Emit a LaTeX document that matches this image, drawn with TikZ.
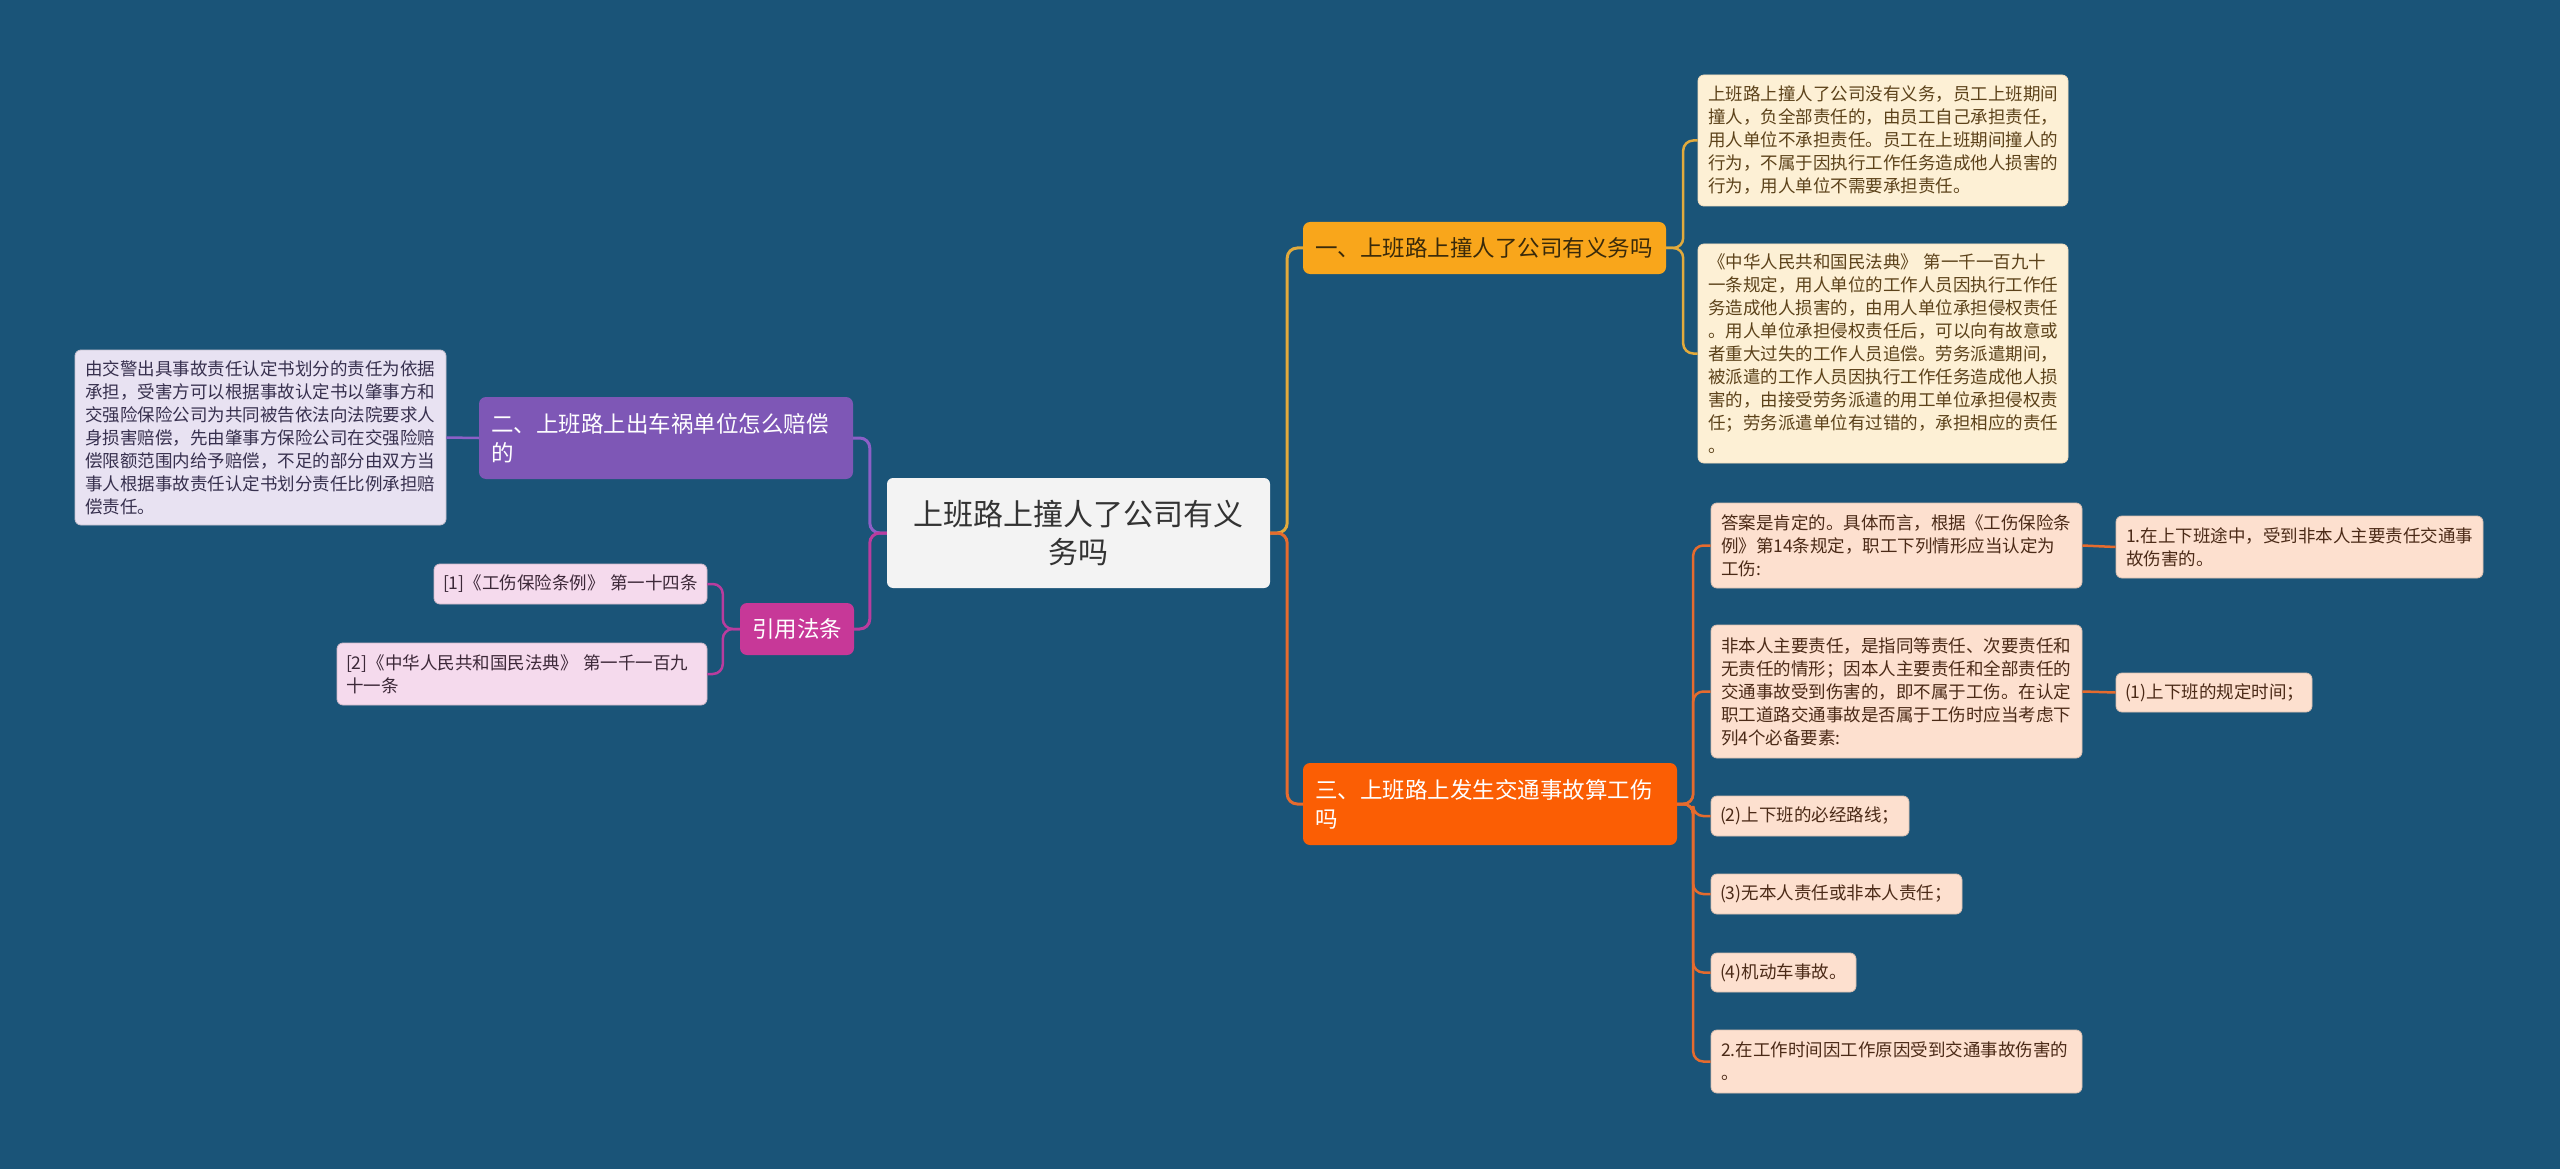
\documentclass[tikz,border=0pt]{standalone}
\usepackage{fontspec}
\setmainfont{Noto Sans CJK SC}
\definecolor{bgc}{HTML}{1A5478}
\definecolor{cfill}{HTML}{F3F3F3}
\definecolor{yfill}{HTML}{F9A61B}
\definecolor{pfill}{HTML}{7E57B6}
\definecolor{mfill}{HTML}{C73898}
\definecolor{ofill}{HTML}{FB5E04}
\definecolor{afill}{HTML}{FDF0D5}
\definecolor{bfill}{HTML}{E8E2F2}
\definecolor{ccfill}{HTML}{F5DAED}
\definecolor{dfill}{HTML}{FDE0CF}
\definecolor{ylin}{HTML}{E2AA3C}
\definecolor{plin}{HTML}{8C5FC7}
\definecolor{mlin}{HTML}{B93C9E}
\definecolor{olin}{HTML}{E56B2E}
\definecolor{atext}{HTML}{5C421A}
\definecolor{btext}{HTML}{37304E}
\definecolor{ctext}{HTML}{3C2838}
\definecolor{dtext}{HTML}{4B2A17}
\definecolor{ytext}{HTML}{3A2A0A}
\newcommand\leaffont{\fontsize{17.5pt}{23pt}\selectfont}
\newcommand\brfont{\fontsize{22.5pt}{29pt}\selectfont}
\newcommand\cenfont{\fontsize{30pt}{38pt}\selectfont}
\tikzset{
 basebox/.style={rounded corners=6pt, inner sep=0pt, align=left},
 cenbox/.style={basebox, fill=cfill, text=black!80, font=\cenfont, align=center},
 brbox/.style={basebox, rounded corners=7pt, font=\brfont},
 leafa/.style={basebox, fill=afill, draw=afill!85!brown, line width=0.8pt, text=atext, font=\leaffont},
 leafb/.style={basebox, fill=bfill, draw=bfill!85!black, line width=0.8pt, text=btext, font=\leaffont},
 leafc/.style={basebox, fill=ccfill, draw=ccfill!85!black, line width=0.8pt, text=ctext, font=\leaffont},
 leafd/.style={basebox, fill=dfill, draw=dfill!85!black, line width=0.8pt, text=dtext, font=\leaffont},
 conn/.style={line width=3pt, rounded corners=10pt},
}
\begin{document}
\begin{tikzpicture}[x=1pt,y=-1pt]
\fill[bgc] (0,0) rectangle (2560,1169);
\useasboundingbox (0,0) rectangle (2560,1169);

% center
\node[cenbox, minimum width=383pt, minimum height=110pt, text width=363pt] (cen) at (1078.5,533) {上班路上撞人了公司有义\\务吗};

% branch 1
\node[brbox, fill=yfill, text=ytext, minimum width=363pt, minimum height=52pt, text width=339pt] (b1) at (1484.5,248) {一、上班路上撞人了公司有义务吗};
\node[leafa, minimum width=370pt, minimum height=131pt, text width=350pt] (a1) at (1883,140.5) {上班路上撞人了公司没有义务，员工上班期间\\撞人，负全部责任的，由员工自己承担责任，\\用人单位不承担责任。员工在上班期间撞人的\\行为，不属于因执行工作任务造成他人损害的\\行为，用人单位不需要承担责任。};
\node[leafa, minimum width=370pt, minimum height=219pt, text width=350pt] (a2) at (1883,353.5) {《中华人民共和国民法典》~第一千一百九十\\一条规定，用人单位的工作人员因执行工作任\\务造成他人损害的，由用人单位承担侵权责任\\。用人单位承担侵权责任后，可以向有故意或\\者重大过失的工作人员追偿。劳务派遣期间，\\被派遣的工作人员因执行工作任务造成他人损\\害的，由接受劳务派遣的用工单位承担侵权责\\任；劳务派遣单位有过错的，承担相应的责任\\。};

% branch 2
\node[brbox, fill=pfill, text=white, minimum width=374pt, minimum height=82pt, text width=350pt] (b2) at (666,438) {二、上班路上出车祸单位怎么赔偿\\的};
\node[leafb, minimum width=371pt, minimum height=175pt, text width=351pt] (bb1) at (260.5,437.5) {由交警出具事故责任认定书划分的责任为依据\\承担，受害方可以根据事故认定书以肇事方和\\交强险保险公司为共同被告依法向法院要求人\\身损害赔偿，先由肇事方保险公司在交强险赔\\偿限额范围内给予赔偿，不足的部分由双方当\\事人根据事故责任认定书划分责任比例承担赔\\偿责任。};

% branch 4 (citations)
\node[brbox, fill=mfill, text=white, minimum width=114pt, minimum height=52pt, align=center] (b4) at (797,629) {引用法条};
\node[leafc, minimum width=273pt, minimum height=40pt, text width=255pt] (c1) at (570.5,584) {[1]《工伤保险条例》~第一十四条};
\node[leafc, minimum width=370pt, minimum height=62pt, text width=352pt] (c2) at (522,674) {[2]《中华人民共和国民法典》~第一千一百九\\十一条};

% branch 3
\node[brbox, fill=ofill, text=white, minimum width=374pt, minimum height=82pt, text width=350pt] (b3) at (1490,804) {三、上班路上发生交通事故算工伤\\吗};
\node[leafd, minimum width=371pt, minimum height=85pt, text width=351pt] (d1) at (1896.5,545.5) {答案是肯定的。具体而言，根据《工伤保险条\\例》第14条规定，职工下列情形应当认定为\\工伤:};
\node[leafd, minimum width=367pt, minimum height=62pt, text width=347pt] (e1) at (2299.5,547) {1.在上下班途中，受到非本人主要责任交通事\\故伤害的。};
\node[leafd, minimum width=371pt, minimum height=133pt, text width=351pt] (d2) at (1896.5,691.5) {非本人主要责任，是指同等责任、次要责任和\\无责任的情形；因本人主要责任和全部责任的\\交通事故受到伤害的，即不属于工伤。在认定\\职工道路交通事故是否属于工伤时应当考虑下\\列4个必备要素:};
\node[leafd, minimum width=196pt, minimum height=39pt, text width=178pt] (e2) at (2214,692.5) {(1)上下班的规定时间；};
\node[leafd, minimum width=198pt, minimum height=40pt, text width=180pt] (d3) at (1810,816) {(2)上下班的必经路线；};
\node[leafd, minimum width=251pt, minimum height=40pt, text width=233pt] (d4) at (1836.5,894) {(3)无本人责任或非本人责任；};
\node[leafd, minimum width=145pt, minimum height=39pt, text width=127pt] (d5) at (1783.5,972.5) {(4)机动车事故。};
\node[leafd, minimum width=371pt, minimum height=63pt, text width=351pt] (d6) at (1896.5,1061.5) {2.在工作时间因工作原因受到交通事故伤害的\\。};

% connectors
\draw[conn, ylin] (cen.east) -- ++(17,0) |- (b1.west);
\draw[conn, olin] (cen.east) -- ++(17,0) |- (b3.west);
\draw[conn, plin] (cen.west) -- ++(-17,0) |- (b2.east);
\draw[conn, mlin] (cen.west) -- ++(-17,0) |- (b4.east);

\draw[conn, ylin, line width=2.5pt] (b1.east) -- ++(17,0) |- (a1.west);
\draw[conn, ylin, line width=2.5pt] (b1.east) -- ++(17,0) |- (a2.west);

\draw[conn, plin, line width=2.5pt] (b2.west) -- (bb1.east);

\draw[conn, mlin, line width=2.5pt] (b4.west) -- ++(-17,0) |- (c1.east);
\draw[conn, mlin, line width=2.5pt] (b4.west) -- ++(-17,0) |- (c2.east);

\foreach \n in {d1,d2,d3,d4,d5,d6}
  \draw[conn, olin, line width=2.5pt] (b3.east) -- ++(16,0) |- (\n.west);
\draw[conn, olin, line width=2.5pt] (d1.east) -- (e1.west);
\draw[conn, olin, line width=2.5pt] (d2.east) -- (e2.west);
\end{tikzpicture}
\end{document}
